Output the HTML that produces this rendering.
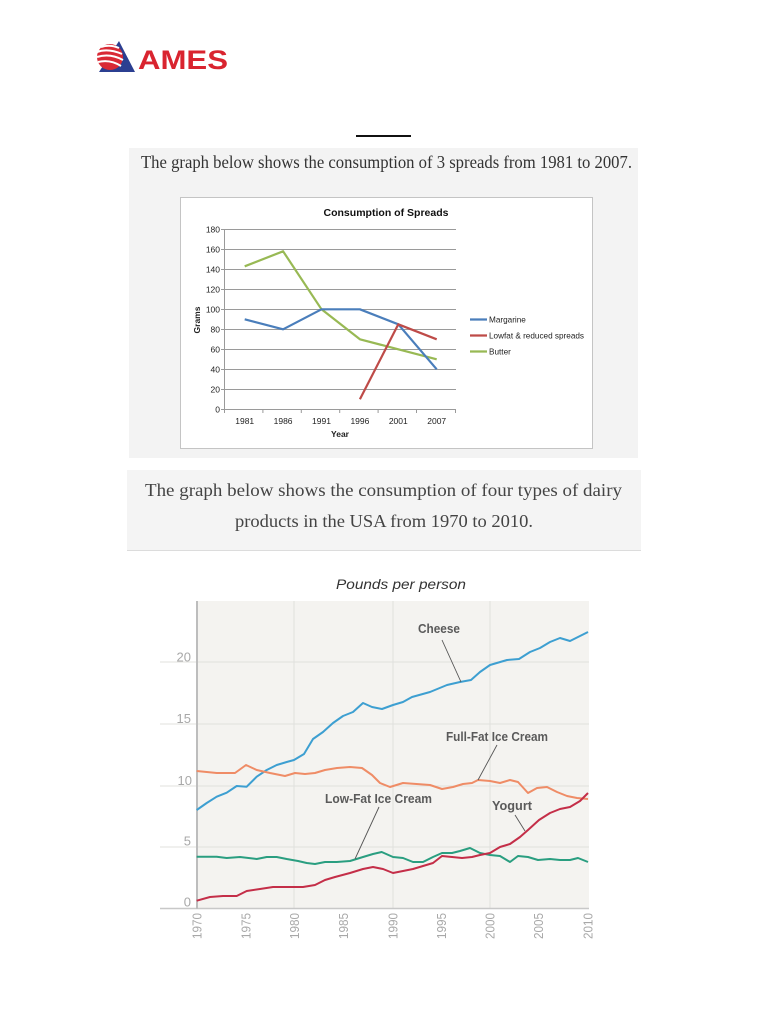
<!DOCTYPE html>
<html>
<head>
<meta charset="utf-8">
<style>
  html,body{margin:0;padding:0;background:#fff;}
  svg{display:block;}
</style>
</head>
<body>
<svg width="768" height="1024" viewBox="0 0 768 1024" xmlns="http://www.w3.org/2000/svg">
  <rect x="0" y="0" width="768" height="1024" fill="#ffffff"/>

  <!-- Logo -->
  <polygon points="99,72 135,72 119,41" fill="#2b3f91"/>
  <circle cx="110" cy="57" r="13" fill="#d92a35"/>
  <g stroke="#ffffff" stroke-width="2" fill="none">
    <path d="M97,52 Q108,48 122,54"/>
    <path d="M97,57 Q110,53 123,60"/>
    <path d="M98,62 Q110,59 121,66"/>
    <path d="M101,47 Q110,44 119,48"/>
  </g>
  <text x="138" y="69" font-family="Liberation Sans, Arial, sans-serif" font-weight="bold" font-size="26.5" fill="#d9242f" textLength="90" lengthAdjust="spacingAndGlyphs">AMES</text>

  <!-- underline -->
  <rect x="356" y="135" width="55" height="2" fill="#111"/>

  <!-- Box 1 -->
  <rect x="129" y="148" width="509" height="310" fill="#f3f3f3"/>
  <text x="141" y="168" font-family="Liberation Serif, serif" font-size="17.5" fill="#333" textLength="491" lengthAdjust="spacingAndGlyphs">The graph below shows the consumption of 3 spreads from 1981 to 2007.</text>

  <!-- Chart 1 -->
  <rect x="180.5" y="197.5" width="412" height="251" fill="#ffffff" stroke="#c4c4c4" stroke-width="1"/>
  <text x="386" y="216" text-anchor="middle" font-family="Liberation Sans, Arial, sans-serif" font-weight="bold" font-size="10.5" fill="#111" textLength="125" lengthAdjust="spacingAndGlyphs">Consumption of Spreads</text>

  <g stroke="#9a9a9a" stroke-width="1">
    <line x1="221" y1="229.5" x2="456" y2="229.5"/>
    <line x1="221" y1="249.5" x2="456" y2="249.5"/>
    <line x1="221" y1="269.5" x2="456" y2="269.5"/>
    <line x1="221" y1="289.5" x2="456" y2="289.5"/>
    <line x1="221" y1="309.5" x2="456" y2="309.5"/>
    <line x1="221" y1="329.5" x2="456" y2="329.5"/>
    <line x1="221" y1="349.5" x2="456" y2="349.5"/>
    <line x1="221" y1="369.5" x2="456" y2="369.5"/>
    <line x1="221" y1="389.5" x2="456" y2="389.5"/>
    <line x1="221" y1="409.5" x2="456" y2="409.5"/>
    <line x1="224.5" y1="229" x2="224.5" y2="410"/>
    <line x1="224.5" y1="409" x2="224.5" y2="413"/>
    <line x1="262.9" y1="409" x2="262.9" y2="413"/>
    <line x1="301.3" y1="409" x2="301.3" y2="413"/>
    <line x1="339.7" y1="409" x2="339.7" y2="413"/>
    <line x1="378.1" y1="409" x2="378.1" y2="413"/>
    <line x1="416.5" y1="409" x2="416.5" y2="413"/>
    <line x1="455.5" y1="409" x2="455.5" y2="413"/>
  </g>

  <g font-family="Liberation Sans, Arial, sans-serif" font-size="8.5" fill="#222" text-anchor="end">
    <text x="220" y="232.5">180</text>
    <text x="220" y="252.5">160</text>
    <text x="220" y="272.5">140</text>
    <text x="220" y="292.5">120</text>
    <text x="220" y="312.5">100</text>
    <text x="220" y="332.5">80</text>
    <text x="220" y="352.5">60</text>
    <text x="220" y="372.5">40</text>
    <text x="220" y="392.5">20</text>
    <text x="220" y="412.5">0</text>
  </g>
  <g font-family="Liberation Sans, Arial, sans-serif" font-size="8.5" fill="#222" text-anchor="middle">
    <text x="244.7" y="424">1981</text>
    <text x="283.1" y="424">1986</text>
    <text x="321.5" y="424">1991</text>
    <text x="359.9" y="424">1996</text>
    <text x="398.3" y="424">2001</text>
    <text x="436.7" y="424">2007</text>
  </g>
  <text x="340" y="437" text-anchor="middle" font-family="Liberation Sans, Arial, sans-serif" font-weight="bold" font-size="8.5" fill="#222">Year</text>
  <text transform="translate(200,320) rotate(-90)" text-anchor="middle" font-family="Liberation Sans, Arial, sans-serif" font-weight="bold" font-size="8.5" fill="#222">Grams</text>

  <polyline fill="none" stroke="#98b954" stroke-width="2.2" stroke-linejoin="round" points="244.7,266.3 283.1,251.3 321.5,309.3 359.9,339.3 398.3,349.3 436.7,359.3"/>
  <polyline fill="none" stroke="#4a7ebb" stroke-width="2.2" stroke-linejoin="round" points="244.7,319.3 283.1,329.3 321.5,309.3 359.9,309.3 398.3,324.3 436.7,369.3"/>
  <polyline fill="none" stroke="#be4b48" stroke-width="2.2" stroke-linejoin="round" points="359.9,399.3 398.3,324.3 436.7,339.3"/>

  <line x1="470" y1="319.5" x2="487" y2="319.5" stroke="#4a7ebb" stroke-width="2.2"/>
  <line x1="470" y1="335.5" x2="487" y2="335.5" stroke="#be4b48" stroke-width="2.2"/>
  <line x1="470" y1="351.5" x2="487" y2="351.5" stroke="#98b954" stroke-width="2.2"/>
  <g font-family="Liberation Sans, Arial, sans-serif" font-size="8.2" fill="#222">
    <text x="489" y="322.5">Margarine</text>
    <text x="489" y="338.5" textLength="95" lengthAdjust="spacingAndGlyphs">Lowfat &amp; reduced spreads</text>
    <text x="489" y="354.5">Butter</text>
  </g>

  <!-- Box 2 -->
  <rect x="127" y="470" width="514" height="80" fill="#f4f4f4"/>
  <line x1="127" y1="550.5" x2="641" y2="550.5" stroke="#dcdcdc" stroke-width="1"/>
  <text x="145" y="496" font-family="Liberation Serif, serif" font-size="17.5" fill="#444" textLength="477" lengthAdjust="spacingAndGlyphs">The graph below shows the consumption of four types of dairy</text>
  <text x="235" y="527" font-family="Liberation Serif, serif" font-size="17.5" fill="#444" textLength="298" lengthAdjust="spacingAndGlyphs">products in the USA from 1970 to 2010.</text>

  <!-- Chart 2 -->
  <text x="401" y="589" text-anchor="middle" font-family="Liberation Sans, Arial, sans-serif" font-style="italic" font-size="14" fill="#333" textLength="130" lengthAdjust="spacingAndGlyphs">Pounds per person</text>

  <rect x="197" y="601" width="392" height="307" fill="#f4f3f0"/>
  <g stroke="#e0e0dd" stroke-width="1">
    <line x1="160" y1="662" x2="589" y2="662"/>
    <line x1="160" y1="724" x2="589" y2="724"/>
    <line x1="160" y1="786" x2="589" y2="786"/>
    <line x1="160" y1="847" x2="589" y2="847"/>
    <line x1="294" y1="601" x2="294" y2="908"/>
    <line x1="393" y1="601" x2="393" y2="908"/>
    <line x1="490" y1="601" x2="490" y2="908"/>
  </g>
  <line x1="160" y1="908.5" x2="589" y2="908.5" stroke="#c8c8c8" stroke-width="1.5"/>
  <line x1="197" y1="601" x2="197" y2="909" stroke="#bdbdbd" stroke-width="2"/>

  <g font-family="Liberation Sans, Arial, sans-serif" font-size="13" fill="#a8a8a8" text-anchor="end">
    <text x="191" y="661.5">20</text>
    <text x="191" y="723">15</text>
    <text x="192" y="785">10</text>
    <text x="191" y="845.5">5</text>
    <text x="191" y="906.5">0</text>
  </g>
  <g font-family="Liberation Sans, Arial, sans-serif" font-size="12.5" fill="#a8a8a8" text-anchor="end">
    <text transform="translate(201.5,913) rotate(-90)" textLength="26" lengthAdjust="spacingAndGlyphs">1970</text>
    <text transform="translate(250.4,913) rotate(-90)" textLength="26" lengthAdjust="spacingAndGlyphs">1975</text>
    <text transform="translate(298.8,913) rotate(-90)" textLength="26" lengthAdjust="spacingAndGlyphs">1980</text>
    <text transform="translate(348,913) rotate(-90)" textLength="26" lengthAdjust="spacingAndGlyphs">1985</text>
    <text transform="translate(397.5,913) rotate(-90)" textLength="26" lengthAdjust="spacingAndGlyphs">1990</text>
    <text transform="translate(446,913) rotate(-90)" textLength="26" lengthAdjust="spacingAndGlyphs">1995</text>
    <text transform="translate(494.5,913) rotate(-90)" textLength="26" lengthAdjust="spacingAndGlyphs">2000</text>
    <text transform="translate(543,913) rotate(-90)" textLength="26" lengthAdjust="spacingAndGlyphs">2005</text>
    <text transform="translate(592.5,913) rotate(-90)" textLength="26" lengthAdjust="spacingAndGlyphs">2010</text>
  </g>

  <!-- series -->
  <polyline fill="none" stroke="#3d9fd1" stroke-width="2" stroke-linejoin="round" points="196.7,810 206.7,803 216.7,796.7 226.7,792.7 236.7,786 246.7,786.7 256.7,776.7 266.7,770 276.7,765 286.7,762 294,760 304,754 313,739 323,732 333,723 343,716 353,712 363,703 372,707 382,709 393,705 403,702 412,697 430,692 447,685 460,682 471,680 480,672 490,665 507,660 519,659 530,652 540,648 550,642 560,638 570,641 580,636 588,632"/>
  <polyline fill="none" stroke="#ef8c66" stroke-width="2" stroke-linejoin="round" points="196.7,771 216.7,773 235,773 246,765 256.7,770 270,773 285,776 295,773 305,774 315,773 325,770 337,768 350,767 362,768 372,775 380,783 390,787 403,783 430,785 442,789 453,787 463,784 472,783 478,780 490,781 500,783 510,780 518,782 528,793 537,788 547,787 557,792 567,796 577,798 588,799"/>
  <polyline fill="none" stroke="#2a9e80" stroke-width="2" stroke-linejoin="round" points="196.7,856.7 216.7,856.7 226.7,858 240,857 256.7,859 266.7,857 276.7,857 286.7,859 298,861 306.7,863 315,864 325,862 336.7,862 350,861 363,857 373,854 381.7,852 393,857 403,858 413,862 423,862 433,857 442,853 452,853 460,851 470,848 480,853 490,855 500,856 510,862 518,856 528,857 538,860 550,859 560,860 570,860 578,858 588,862"/>
  <polyline fill="none" stroke="#c42e48" stroke-width="2" stroke-linejoin="round" points="196.7,900.7 210,897 223,896 236.7,896 246.7,891 260,889 273,887 283,887 303,887 315,885 325,880 335,877 350,873 363,869 373,867 383,869 393,873 403,871 413,869 423,866 433,863 442,856 452,857 462,858 472,857 480,855 490,853 500,847 510,844 520,837 528,830 539,820 550,813 560,809 570,807 580,801 588,793"/>

  <!-- annotations -->
  <g stroke="#555" stroke-width="0.9">
    <line x1="442" y1="640" x2="461" y2="682"/>
    <line x1="497" y1="745" x2="478" y2="780"/>
    <line x1="379" y1="807" x2="355" y2="859"/>
    <line x1="515" y1="815" x2="525" y2="831"/>
  </g>
  <g font-family="Liberation Sans, Arial, sans-serif" font-weight="bold" font-size="12.5" fill="#5a5a5a">
    <text x="418" y="633" textLength="42" lengthAdjust="spacingAndGlyphs">Cheese</text>
    <text x="446" y="741" textLength="102" lengthAdjust="spacingAndGlyphs">Full-Fat Ice Cream</text>
    <text x="325" y="803" textLength="107" lengthAdjust="spacingAndGlyphs">Low-Fat Ice Cream</text>
    <text x="492" y="810" textLength="40" lengthAdjust="spacingAndGlyphs">Yogurt</text>
  </g>
</svg>
</body>
</html>
